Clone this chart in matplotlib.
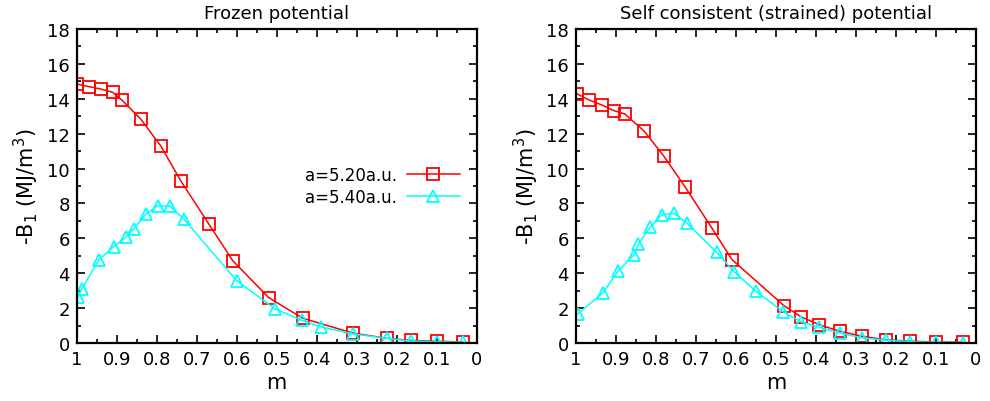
import matplotlib
matplotlib.use("Agg")
import matplotlib.pyplot as plt
from matplotlib.ticker import MultipleLocator

# frozen potential, a=5.20 a.u. (red squares)
m_froz_520 = [1.0, 0.97, 0.94, 0.91, 0.887, 0.84, 0.79, 0.74, 0.67, 0.61,
              0.52, 0.435, 0.31, 0.225, 0.165, 0.10, 0.035]
b_froz_520 = [14.85, 14.7, 14.56, 14.37, 13.93, 12.84, 11.3, 9.3, 6.83, 4.72,
              2.6, 1.42, 0.57, 0.27, 0.15, 0.10, 0.06]

# frozen potential, a=5.40 a.u. (cyan triangles)
m_froz_540 = [0.996, 0.9875, 0.944, 0.908, 0.877, 0.857, 0.827, 0.797, 0.767,
              0.732, 0.60, 0.504, 0.437, 0.39, 0.31, 0.225, 0.165, 0.10, 0.035]
b_froz_540 = [2.65, 3.1, 4.78, 5.52, 6.06, 6.54, 7.4, 7.87, 7.84,
              7.1, 3.57, 1.95, 1.3, 0.93, 0.52, 0.27, 0.11, 0.07, 0.04]

# self consistent potential, a=5.20 a.u.
m_sc_520 = [0.997, 0.967, 0.936, 0.905, 0.878, 0.83, 0.78, 0.7275, 0.66, 0.61,
            0.48, 0.438, 0.3925, 0.34, 0.284, 0.226, 0.164, 0.10, 0.033]
b_sc_520 = [14.28, 13.93, 13.65, 13.32, 13.13, 12.16, 10.7, 8.96, 6.58, 4.78,
            2.14, 1.51, 1.05, 0.67, 0.38, 0.19, 0.10, 0.06, 0.04]

# self consistent potential, a=5.40 a.u.
m_sc_540 = [0.996, 0.933, 0.894, 0.855, 0.844, 0.815, 0.786, 0.755, 0.722,
            0.648, 0.605, 0.55, 0.482, 0.438, 0.3925, 0.34, 0.284, 0.226,
            0.164, 0.10, 0.033]
b_sc_540 = [1.66, 2.87, 4.15, 5.05, 5.68, 6.63, 7.34, 7.44, 6.86,
            5.2, 4.09, 2.96, 1.79, 1.22, 0.9, 0.57, 0.29, 0.17,
            0.07, 0.04, 0.02]

xticks = [1, 0.9, 0.8, 0.7, 0.6, 0.5, 0.4, 0.3, 0.2, 0.1, 0]
xtick_labels = ["1", "0.9", "0.8", "0.7", "0.6", "0.5", "0.4", "0.3", "0.2", "0.1", "0"]
titles = ["Frozen potential", "Self consistent (strained) potential"]

fig = plt.figure(figsize=(9.9, 4.02), dpi=100)
ax1 = fig.add_axes([0.0775, 0.1443, 0.404, 0.781])
ax2 = fig.add_axes([0.5818, 0.1443, 0.404, 0.781])

red = "#ff0000"
cyan = "#00ffff"

panels = [(ax1, m_froz_520, b_froz_520, m_froz_540, b_froz_540),
          (ax2, m_sc_520, b_sc_520, m_sc_540, b_sc_540)]

for i, (ax, mr, br, mc, bc) in enumerate(panels):
    ax.plot(mr, br, color=red, lw=1.1, marker="s", ms=8.5, mfc="none",
            mec=red, mew=1.3, label="a=5.20a.u.")
    ax.plot(mc, bc, color=cyan, lw=1.1, marker="^", ms=8, mfc="none",
            mec=cyan, mew=1.3, label="a=5.40a.u.")
    ax.set_xlim(1, 0)
    ax.set_ylim(0, 18)
    ax.set_xticks(xticks)
    ax.set_xticklabels(xtick_labels)
    ax.xaxis.set_minor_locator(MultipleLocator(0.05))
    ax.yaxis.set_major_locator(MultipleLocator(2))
    ax.yaxis.set_minor_locator(MultipleLocator(1))
    ax.tick_params(which="both", direction="in", top=True, right=True,
                   labelsize=13, width=1.2, pad=5)
    ax.tick_params(which="major", length=6)
    ax.tick_params(which="minor", length=3)
    for s in ax.spines.values():
        s.set_linewidth(1.6)
    ax.set_xlabel("m", fontsize=15, labelpad=3)
    ax.set_ylabel(r"-B$_1$ (MJ/m$^3$)", fontsize=15, labelpad=4)
    ax.set_title(titles[i], fontsize=13, pad=8)

leg = ax1.legend(loc="upper right", bbox_to_anchor=(0.975, 0.585),
                 frameon=False, markerfirst=False, fontsize=12,
                 handlelength=3.2, handletextpad=0.6, labelspacing=0.25,
                 borderaxespad=0)

fig.savefig("out.png", dpi=100)
